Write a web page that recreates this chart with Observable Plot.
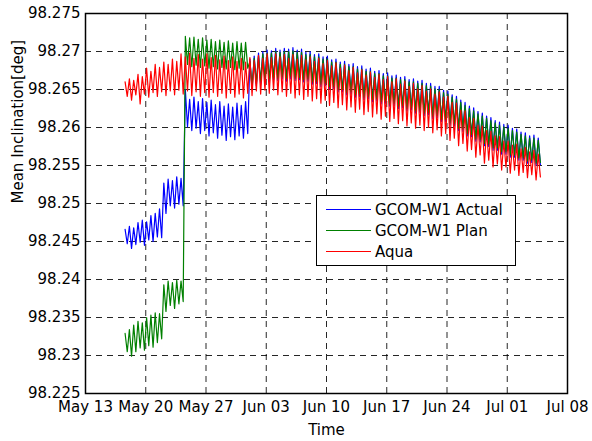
<!DOCTYPE html>
<html>
<head>
<meta charset="utf-8">
<script src="https://cdn.jsdelivr.net/npm/d3@7"></script>
<script src="https://cdn.jsdelivr.net/npm/@observablehq/plot@0.6"></script>
<style>
  html, body { margin: 0; padding: 0; background: #fff; }
  #chart { position: relative; width: 592px; height: 441px; font-family: "DejaVu Sans", sans-serif; }
  #legend {
    position: absolute; left: 316px; top: 195px; width: 198px; height: 66px;
    border: 1px solid #000; background: #fff; padding-top: 3px; box-sizing: content-box;
  }
  .row { display: flex; align-items: center; height: 21px; font-size: 15px; color: #000; }
  .swatch { width: 45px; height: 0; border-top: 1px solid; margin-left: 9px; margin-right: 4px; }
</style>
</head>
<body>
<div id="chart"></div>
<script>
// Mean inclination of GCOM-W1 (actual and planned) and Aqua, May–July 2012.
// Each series is stored as per-cycle highs and lows (one cycle every 12 h),
// starting 2012-05-17 14:24 UTC; lows fall 6 h after each high.

const seriesNames = ["GCOM-W1 Actual", "GCOM-W1 Plan", "Aqua"];
const seriesColors = ["#0000ff", "#008000", "#ff0000"];

const actualHigh = [
  98.2466, 98.2470, 98.2468, 98.2475, 98.2478, 98.2476, 98.2484, 98.2487, 98.2493,
  98.2527, 98.2532, 98.2530, 98.2535, 98.2533,
  98.2650, 98.2637, 98.2640, 98.2634, 98.2638, 98.2633, 98.2636, 98.2630, 98.2634, 98.2628,
  98.2631, 98.2627, 98.2632, 98.2629, 98.2634,
  98.2690, 98.2694, 98.2698, 98.2700, 98.2702, 98.2701, 98.2704, 98.2702, 98.2704, 98.2703,
  98.2705, 98.2702, 98.2703, 98.2699, 98.2700, 98.2696, 98.2697, 98.2693, 98.2694, 98.2689,
  98.2690, 98.2686, 98.2687, 98.2683, 98.2684, 98.2680, 98.2681, 98.2677, 98.2678, 98.2674,
  98.2675, 98.2671, 98.2672, 98.2668, 98.2669, 98.2666, 98.2667, 98.2663, 98.2664, 98.2661,
  98.2662, 98.2658, 98.2658, 98.2654, 98.2654, 98.2649, 98.2648, 98.2643, 98.2641, 98.2636,
  98.2633, 98.2628, 98.2626, 98.2621, 98.2619, 98.2615, 98.2613, 98.2609, 98.2607, 98.2604,
  98.2603, 98.2599, 98.2598, 98.2594, 98.2593, 98.2589, 98.2590, 98.2586
];
const actualLow = [
  98.2447, 98.2441, 98.2446, 98.2449, 98.2445, 98.2452, 98.2450, 98.2456, 98.2455,
  98.2487, 98.2497, 98.2494, 98.2499, 98.2497,
  98.2601, 98.2596, 98.2599, 98.2592, 98.2596, 98.2589, 98.2593, 98.2586, 98.2590, 98.2583,
  98.2588, 98.2584, 98.2589, 98.2586, 98.2592,
  98.2650, 98.2655, 98.2657, 98.2661, 98.2660, 98.2663, 98.2662, 98.2664, 98.2661, 98.2664,
  98.2662, 98.2663, 98.2660, 98.2661, 98.2657, 98.2658, 98.2654, 98.2655, 98.2651, 98.2651,
  98.2647, 98.2647, 98.2643, 98.2644, 98.2640, 98.2641, 98.2637, 98.2638, 98.2634, 98.2635,
  98.2631, 98.2632, 98.2628, 98.2629, 98.2625, 98.2626, 98.2622, 98.2623, 98.2619, 98.2620,
  98.2616, 98.2617, 98.2612, 98.2613, 98.2608, 98.2608, 98.2603, 98.2602, 98.2596, 98.2595,
  98.2589, 98.2588, 98.2582, 98.2581, 98.2576, 98.2575, 98.2570, 98.2570, 98.2565, 98.2565,
  98.2561, 98.2561, 98.2557, 98.2557, 98.2553, 98.2554, 98.2550, 98.2551
];

const planHigh = [
  98.2329, 98.2334, 98.2340, 98.2345, 98.2343, 98.2350, 98.2353, 98.2356, 98.2355,
  98.2393, 98.2398, 98.2396, 98.2399, 98.2398,
  98.2720, 98.2718, 98.2719, 98.2716, 98.2718, 98.2715, 98.2716, 98.2713, 98.2715, 98.2712,
  98.2714, 98.2711, 98.2713, 98.2711, 98.2712,
  98.2687, 98.2691, 98.2694, 98.2697, 98.2698, 98.2698, 98.2700, 98.2699, 98.2700, 98.2700,
  98.2701, 98.2699, 98.2699, 98.2696, 98.2696, 98.2693, 98.2693, 98.2690, 98.2690, 98.2686,
  98.2686, 98.2683, 98.2683, 98.2680, 98.2680, 98.2677, 98.2677, 98.2674, 98.2674, 98.2671,
  98.2671, 98.2668, 98.2668, 98.2665, 98.2665, 98.2663, 98.2663, 98.2660, 98.2660, 98.2658,
  98.2658, 98.2655, 98.2654, 98.2651, 98.2650, 98.2646, 98.2644, 98.2640, 98.2637, 98.2633,
  98.2629, 98.2625, 98.2622, 98.2618, 98.2615, 98.2612, 98.2609, 98.2606, 98.2603, 98.2601,
  98.2599, 98.2596, 98.2594, 98.2591, 98.2589, 98.2586, 98.2586, 98.2583
];
const planLow = [
  98.2305, 98.2299, 98.2305, 98.2310, 98.2307, 98.2313, 98.2311, 98.2317, 98.2322,
  98.2358, 98.2366, 98.2362, 98.2368, 98.2371,
  98.2683, 98.2680, 98.2682, 98.2679, 98.2681, 98.2678, 98.2680, 98.2677, 98.2679, 98.2677,
  98.2679, 98.2676, 98.2678, 98.2676, 98.2678,
  98.2654, 98.2658, 98.2661, 98.2664, 98.2664, 98.2666, 98.2665, 98.2667, 98.2665, 98.2667,
  98.2665, 98.2666, 98.2663, 98.2664, 98.2660, 98.2661, 98.2657, 98.2658, 98.2654, 98.2654,
  98.2650, 98.2650, 98.2646, 98.2647, 98.2643, 98.2644, 98.2640, 98.2641, 98.2637, 98.2638,
  98.2634, 98.2635, 98.2631, 98.2632, 98.2628, 98.2629, 98.2625, 98.2626, 98.2622, 98.2623,
  98.2619, 98.2620, 98.2615, 98.2616, 98.2611, 98.2611, 98.2606, 98.2605, 98.2599, 98.2598,
  98.2592, 98.2591, 98.2585, 98.2584, 98.2579, 98.2578, 98.2573, 98.2573, 98.2568, 98.2568,
  98.2564, 98.2564, 98.2560, 98.2560, 98.2556, 98.2557, 98.2553, 98.2554
];

const aquaHigh = [
  98.2660, 98.2664, 98.2662, 98.2670, 98.2667, 98.2678, 98.2674, 98.2683, 98.2679, 98.2686,
  98.2683, 98.2690, 98.2687, 98.2697, 98.2693, 98.2698, 98.2691, 98.2696, 98.2690, 98.2697,
  98.2692, 98.2695, 98.2689, 98.2694, 98.2688, 98.2693, 98.2687, 98.2691, 98.2686, 98.2692,
  98.2688, 98.2695, 98.2691, 98.2697, 98.2692, 98.2697, 98.2693, 98.2696, 98.2691, 98.2696,
  98.2690, 98.2695, 98.2689, 98.2693, 98.2687, 98.2691, 98.2684, 98.2688, 98.2681, 98.2685,
  98.2678, 98.2682, 98.2675, 98.2679, 98.2672, 98.2676, 98.2669, 98.2673, 98.2666, 98.2670,
  98.2663, 98.2667, 98.2660, 98.2664, 98.2657, 98.2661, 98.2654, 98.2658, 98.2651, 98.2655,
  98.2648, 98.2651, 98.2644, 98.2647, 98.2640, 98.2641, 98.2633, 98.2632, 98.2623, 98.2622,
  98.2613, 98.2612, 98.2603, 98.2602, 98.2596, 98.2595, 98.2589, 98.2588, 98.2582, 98.2582,
  98.2577, 98.2578, 98.2572, 98.2574, 98.2568, 98.2570, 98.2565
];
const aquaLow = [
  98.2641, 98.2636, 98.2643, 98.2631, 98.2644, 98.2640, 98.2646, 98.2641, 98.2647, 98.2642,
  98.2648, 98.2643, 98.2649, 98.2644, 98.2648, 98.2642, 98.2647, 98.2641, 98.2646, 98.2640,
  98.2646, 98.2641, 98.2645, 98.2639, 98.2645, 98.2640, 98.2644, 98.2639, 98.2645, 98.2642,
  98.2648, 98.2644, 98.2649, 98.2645, 98.2649, 98.2643, 98.2647, 98.2641, 98.2645, 98.2639,
  98.2643, 98.2637, 98.2641, 98.2635, 98.2638, 98.2632, 98.2636, 98.2629, 98.2633, 98.2626,
  98.2630, 98.2623, 98.2627, 98.2620, 98.2624, 98.2617, 98.2621, 98.2614, 98.2618, 98.2611,
  98.2615, 98.2608, 98.2612, 98.2605, 98.2609, 98.2602, 98.2606, 98.2599, 98.2603, 98.2596,
  98.2600, 98.2593, 98.2597, 98.2589, 98.2592, 98.2583, 98.2586, 98.2576, 98.2579, 98.2569,
  98.2571, 98.2561, 98.2564, 98.2553, 98.2557, 98.2548, 98.2552, 98.2544, 98.2548, 98.2540,
  98.2544, 98.2537, 98.2541, 98.2534, 98.2538, 98.2531, 98.2535
];

const yTickValues = [98.225, 98.23, 98.235, 98.24, 98.245, 98.25, 98.255, 98.26, 98.265, 98.27, 98.275];
const yTickLabels = ["98.225", "98.23", "98.235", "98.24", "98.245", "98.25", "98.255", "98.26", "98.265", "98.27", "98.275"];
const xTickDays = ["2012-05-13", "2012-05-20", "2012-05-27", "2012-06-03", "2012-06-10", "2012-06-17", "2012-06-24", "2012-07-01", "2012-07-08"];
const xTickLabels = ["May 13", "May 20", "May 27", "Jun 03", "Jun 10", "Jun 17", "Jun 24", "Jul 01", "Jul 08"];

const cycleStart = Date.UTC(2012, 4, 17, 14, 24);
const HALF_DAY = 12 * 3600 * 1000;

function toRows(highs, lows, series) {
  const rows = [];
  highs.forEach((h, i) => {
    const t = cycleStart + i * HALF_DAY;
    rows.push({date: new Date(t), value: h, series});
    rows.push({date: new Date(t + HALF_DAY / 2), value: lows[i], series});
  });
  return rows;
}

const actualRows = toRows(actualHigh, actualLow, seriesNames[0]);
const planRows = toRows(planHigh, planLow, seriesNames[1]);
const aquaRows = toRows(aquaHigh, aquaLow, seriesNames[2]);

const xTicks = xTickDays.map(d => new Date(d + "T00:00:00Z"));
const xDomain = [xTicks[0], xTicks[xTicks.length - 1]];
const gridDash = "6,5";

const chart = Plot.plot({
  width: 592,
  height: 441,
  marginLeft: 85,
  marginRight: 25,
  marginTop: 13,
  marginBottom: 48,
  style: {fontFamily: "DejaVu Sans, sans-serif", background: "#fff", color: "#000"},
  x: {type: "utc", domain: xDomain},
  y: {domain: [yTickValues[0], yTickValues[yTickValues.length - 1]]},
  marks: [
    Plot.gridX({ticks: xTicks.slice(1, -1), stroke: "#000", strokeOpacity: 0.85, strokeDasharray: gridDash}),
    Plot.gridY({ticks: yTickValues.slice(1, -1), stroke: "#000", strokeOpacity: 0.85, strokeDasharray: gridDash}),
    Plot.line(actualRows, {x: "date", y: "value", stroke: seriesColors[0], strokeWidth: 1.2}),
    Plot.line(planRows, {x: "date", y: "value", stroke: seriesColors[1], strokeWidth: 1.2}),
    Plot.line(aquaRows, {x: "date", y: "value", stroke: seriesColors[2], strokeWidth: 1.2}),
    Plot.axisX({ticks: xTicks, tickFormat: (d, i) => xTickLabels[i], tickSize: 0, tickPadding: 8, fontSize: 15, label: null}),
    Plot.axisY({ticks: yTickValues, tickFormat: (d, i) => yTickLabels[i], tickSize: 0, tickPadding: 5, fontSize: 15, label: null}),
    Plot.frame({stroke: "#000", strokeWidth: 1.5}),
    Plot.text(["Time"], {frameAnchor: "bottom", dy: 31, fontSize: 15, lineAnchor: "top"}),
    Plot.text(["Mean Inclination[deg]"], {frameAnchor: "left", rotate: -90, dx: -67, fontSize: 15})
  ]
});

const container = document.getElementById("chart");
container.appendChild(chart);

const legend = document.createElement("div");
legend.id = "legend";
seriesNames.forEach((name, i) => {
  const row = document.createElement("div");
  row.className = "row";
  const sw = document.createElement("span");
  sw.className = "swatch";
  sw.style.borderTopColor = seriesColors[i];
  const label = document.createElement("span");
  label.textContent = name;
  row.appendChild(sw);
  row.appendChild(label);
  legend.appendChild(row);
});
container.appendChild(legend);
</script>
</body>
</html>
